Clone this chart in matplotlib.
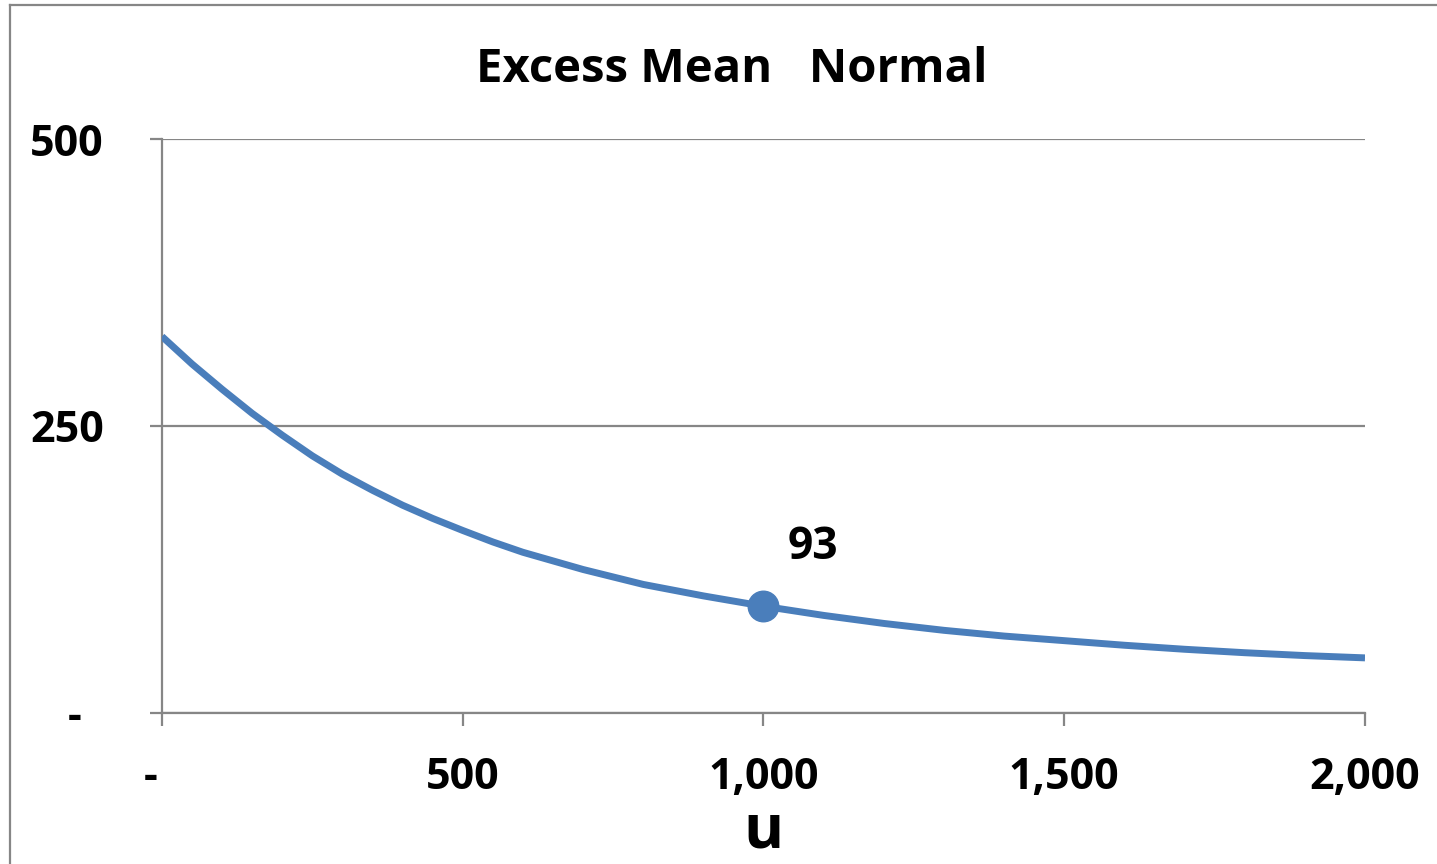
import matplotlib.pyplot as plt
from matplotlib.ticker import FixedLocator, FuncFormatter
from matplotlib.lines import Line2D

# excess mean e(u)
u_vals = [0, 50, 100, 150, 200, 250, 300, 350, 400, 450, 500, 550, 600,
          700, 800, 900, 1000, 1100, 1200, 1300, 1400, 1500, 1600, 1700,
          1800, 1900, 2000]
excess = [328, 304, 282, 261, 242, 224, 208, 194, 181, 169.5, 159, 149, 140,
          125, 112, 102, 93, 85, 78, 72, 67, 63, 59, 55.5, 52.5, 50, 48]

u_point = 1000
e_point = 93

x_ticks = [0, 500, 1000, 1500, 2000]
y_ticks = [0, 250, 500]

plt.rcParams['font.family'] = ['Open Sans', 'DejaVu Sans']
plt.rcParams['font.weight'] = 'bold'

blue = "#4a7ebb"
grey = "#868686"

fig = plt.figure(figsize=(14.37, 8.64), dpi=100)
ax = fig.add_axes([0.1127, 0.1748, 0.8372, 0.6643])

ax.plot(u_vals, excess, color=blue, lw=5, solid_capstyle="butt",
        solid_joinstyle="round", zorder=3)
ax.plot([u_point], [e_point], "o", color=blue, ms=22, zorder=4)
ax.annotate(f"{e_point:,}", (u_point, e_point), xytext=(49, 59), textcoords="offset pixels",
            ha="center", va="center", fontsize=32, fontweight="bold")

ax.set_xlim(0, 2000)
ax.set_ylim(0, 500)

# accounting-style labels: zero shown as a dash
def fmt_x(v, pos):
    return "-  " if v == 0 else f"{int(v):,}"

def fmt_y(v, pos):
    return "-  " if v == 0 else f"{int(v):,}"

ax.xaxis.set_major_locator(FixedLocator(x_ticks))
ax.yaxis.set_major_locator(FixedLocator(y_ticks))
ax.xaxis.set_major_formatter(FuncFormatter(fmt_x))
ax.yaxis.set_major_formatter(FuncFormatter(fmt_y))

ax.grid(axis="y", color=grey, lw=1.6)
ax.set_axisbelow(True)
for side in ["top", "right"]:
    ax.spines[side].set_visible(False)
for side in ["left", "bottom"]:
    ax.spines[side].set_color(grey)
    ax.spines[side].set_linewidth(1.6)

ax.tick_params(axis="both", color=grey, width=1.6, length=9, labelsize=31)
ax.tick_params(axis="x", pad=22)
ax.tick_params(axis="y", pad=33)

ax.set_xlabel("u", fontsize=44, fontweight="bold", labelpad=2)
fig.text(732 / 1437, 1 - 69 / 864, "Excess Mean   Normal", fontsize=34,
         fontweight="bold", ha="center", va="center")

# outer chart-area border (top and left edges)
fig.add_artist(Line2D([10 / 1437, 1], [1 - 5 / 864, 1 - 5 / 864], color=grey, lw=1.6))
fig.add_artist(Line2D([10 / 1437, 10 / 1437], [0, 1 - 5 / 864], color=grey, lw=1.6))

fig.savefig("out.png", dpi=100)
